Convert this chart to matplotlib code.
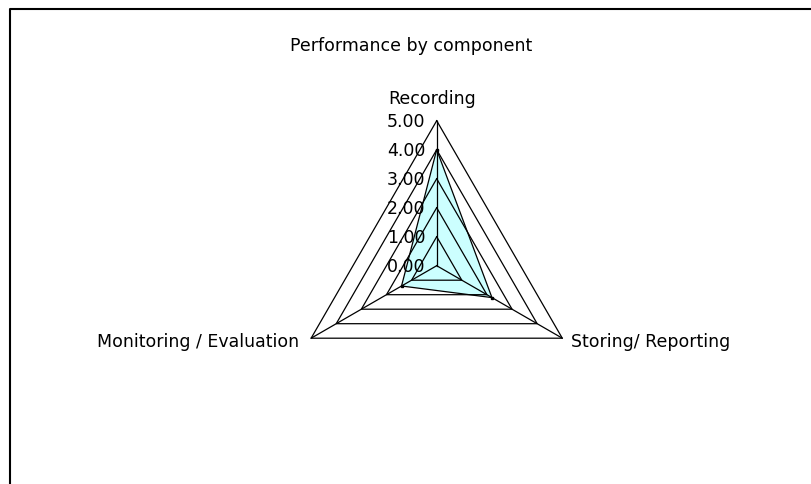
import numpy as np
import matplotlib
matplotlib.use("Agg")
import matplotlib.pyplot as plt
from matplotlib.lines import Line2D

title = "Performance by component"
components = ["Recording", "Storing/ Reporting", "Monitoring / Evaluation"]
scores = [4.0, 2.2, 1.4]
ring_levels = [0, 1, 2, 3, 4, 5]
ring_labels = ["0.00", "1.00", "2.00", "3.00", "4.00", "5.00"]

W, H, DPI = 812, 485, 100
PX = 29.0            # pixels per unit on the value scale
CX, CY = 436.7, 266.7  # plot centre, pixels from top-left

fig = plt.figure(figsize=(W / DPI, H / DPI), dpi=DPI)
fig.patch.set_facecolor("white")
ax = fig.add_axes([0, 0, 1, 1])
ax.set_xlim(-CX / PX, (W - CX) / PX)
ax.set_ylim(-(H - CY) / PX, CY / PX)
ax.axis("off")

plt.rcParams["font.family"] = ["DejaVu Sans"]
FS = 12.5

# first spoke points straight up, the rest go clockwise
angles = np.pi / 2 - np.arange(len(components)) * 2 * np.pi / len(components)


def to_xy(values):
    values = np.asarray(values, dtype=float)
    return values * np.cos(angles), values * np.sin(angles)


# series area
sx, sy = to_xy(scores)
ax.fill(sx, sy, facecolor="#ccffff", edgecolor="black", lw=0.9, zorder=2)

# rings and spokes
for lvl in ring_levels[1:]:
    gx, gy = to_xy([lvl] * len(components))
    ax.plot(np.append(gx, gx[0]), np.append(gy, gy[0]), color="black", lw=0.9, zorder=3)
top = max(ring_levels)
ex, ey = to_xy([top] * len(components))
for x, y in zip(ex, ey):
    ax.plot([0, x], [0, y], color="black", lw=0.9, zorder=3)
ax.plot(sx, sy, "s", color="black", ms=2, zorder=4)

# value labels along the first spoke
for lvl, lab in zip(ring_levels, ring_labels):
    ax.annotate(lab, (0, lvl), xytext=(-8, 0), textcoords="offset points",
                ha="right", va="center", fontsize=FS, zorder=5)

# category labels
ax.annotate(components[0], (ex[0], ey[0]), xytext=(-3, 10), textcoords="offset points",
            ha="center", va="bottom", fontsize=FS)
ax.annotate(components[1], (ex[1], ey[1]), xytext=(6, -2), textcoords="offset points",
            ha="left", va="center", fontsize=FS)
ax.annotate(components[2], (ex[2], ey[2]), xytext=(-9, -2), textcoords="offset points",
            ha="right", va="center", fontsize=FS)

fig.text(411.5 / W, 1 - 46 / H, title, ha="center", va="center", fontsize=FS)

# chart frame (top and left edges visible)
fig.add_artist(Line2D([10 / W, 10 / W, 1], [0, 1 - 10 / H, 1 - 10 / H],
                      transform=fig.transFigure, color="black", lw=1.5))

fig.savefig("out.png", dpi=DPI)
